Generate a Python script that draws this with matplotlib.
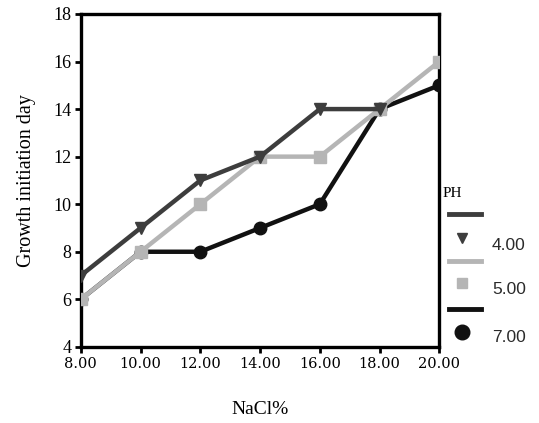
import matplotlib
matplotlib.use("Agg")
import matplotlib.pyplot as plt
from matplotlib.lines import Line2D

# NaCl concentration (%) and days to growth initiation at each pH
nacl = [8, 10, 12, 14, 16, 18, 20]
ph4_nacl = [8, 10, 12, 14, 16, 18]
ph4_days = [7, 9, 11, 12, 14, 14]
ph5_days = [6, 8, 10, 12, 12, 14, 16]
ph7_days = [6, 8, 8, 9, 10, 14, 15]

ph_labels = ["4.00", "5.00", "7.00"]
colors = ["#3d3d3d", "#b5b5b5", "#111111"]
markers = ["v", "s", "o"]

x_ticks = [8, 10, 12, 14, 16, 18, 20]
y_ticks = [4, 6, 8, 10, 12, 14, 16, 18]

serif = "Liberation Serif"
sans = "Liberation Sans"

fig = plt.figure(figsize=(5.39, 4.23), dpi=100)
ax = fig.add_axes([0.150, 0.180, 0.665, 0.787])

ax.plot(nacl, ph7_days, color=colors[2], lw=3.2, marker=markers[2],
        ms=9, zorder=3)
ax.plot(nacl, ph5_days, color=colors[1], lw=3.2, marker=markers[1],
        ms=8, zorder=4)
ax.plot(ph4_nacl, ph4_days, color=colors[0], lw=3.2, marker=markers[0],
        ms=8, zorder=5)

ax.set_xlim(8, 20)
ax.set_ylim(4, 18)
ax.set_xticks(x_ticks)
ax.set_xticklabels([f"{v:.2f}" for v in x_ticks], fontfamily="DejaVu Serif",
                   fontsize=10.5)
ax.set_yticks(y_ticks)
ax.set_yticklabels([str(v) for v in y_ticks], fontfamily=serif,
                   fontsize=13)
ax.tick_params(direction="out", length=4, width=2, color="black", pad=3)
for s in ax.spines.values():
    s.set_linewidth(2.4)
    s.set_color("black")

ax.set_xlabel("NaCl%", fontfamily=serif, fontsize=14, labelpad=22)
ax.set_ylabel("Growth initiation day", fontfamily=serif, fontsize=14.5,
              labelpad=12)

# Legend drawn beside the axes: a line row then a marker row per pH
fig.text(443 / 539, 1 - 193 / 423, "PH", fontfamily=serif, fontsize=11,
         va="center", ha="left")
line_rows = [214, 261, 309]
mark_rows = [238, 283, 332]
label_rows = [245, 290, 337]
for c, m, lab, ly, my, ty in zip(colors, markers, ph_labels, line_rows,
                                 mark_rows, label_rows):
    fig.add_artist(Line2D([449 / 539, 481 / 539], [1 - ly / 423, 1 - ly / 423],
                          color=c, lw=3.5, transform=fig.transFigure))
    fig.add_artist(Line2D([462 / 539], [1 - my / 423], color=c, marker=m,
                          ms=10.5 if m == "o" else 7.5, lw=0,
                          transform=fig.transFigure))
    fig.text(492 / 539, 1 - ty / 423, lab, fontfamily=sans,
             fontsize=12.5, va="center", ha="left", color="#2a2a2a")

fig.savefig("out.png", dpi=100)
